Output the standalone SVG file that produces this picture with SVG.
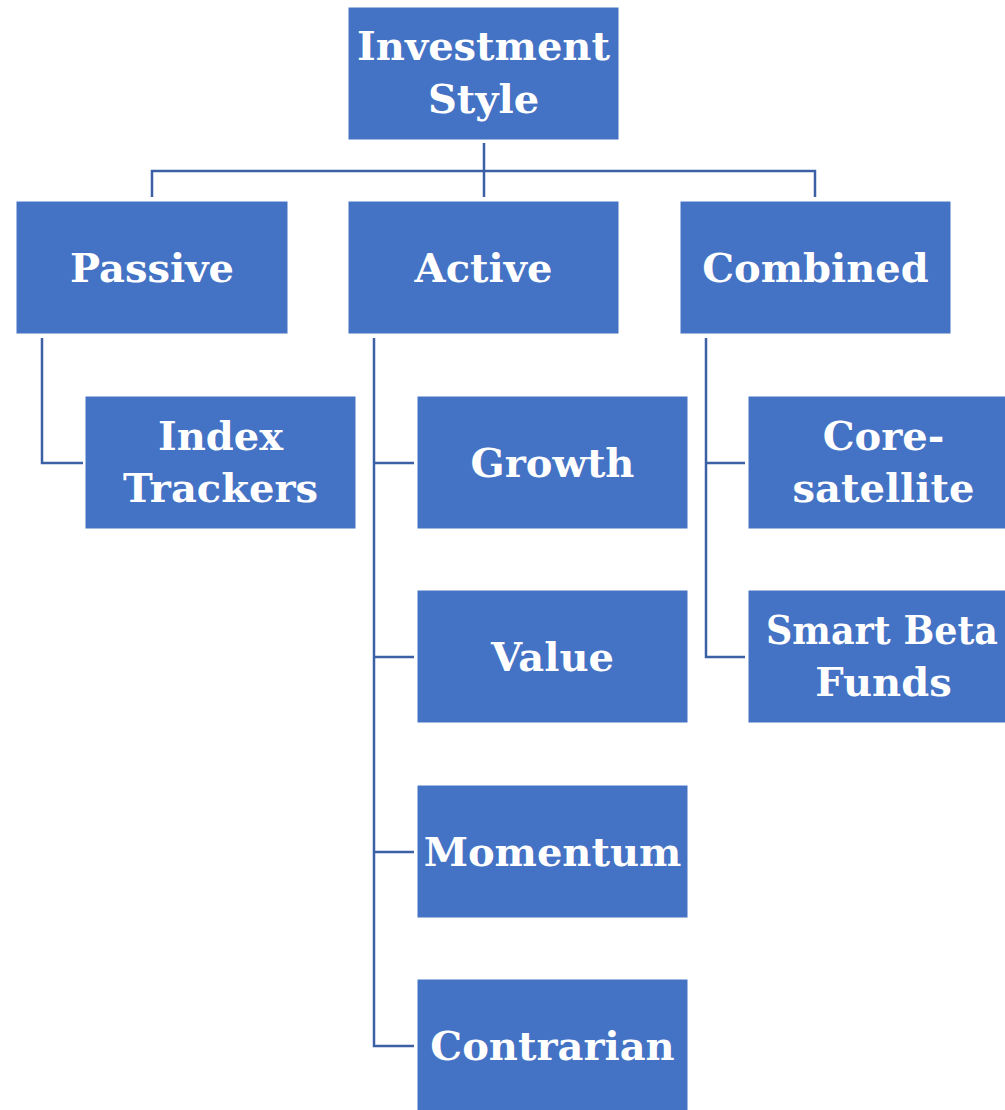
<svg xmlns="http://www.w3.org/2000/svg" width="1005" height="1110" viewBox="0 0 1005 1110">
<style>
.box{fill:#4472C4;stroke:#ffffff;stroke-width:1}
.lbl{font-family:"DejaVu Serif","Liberation Serif",serif;font-weight:bold;font-size:40px;fill:#ffffff;text-anchor:middle}
.con{fill:none;stroke:#3B60A6;stroke-width:2.5}
</style>
<rect width="1005" height="1110" fill="#ffffff"/>
<g id="connectors">
<path class="con" d="M484,143 V197 M152,197 V171 H815 V197"/>
<path class="con" d="M42,338 V463 H83"/>
<path class="con" d="M374,338 V1046 H414 M374,463 H414 M374,657 H414 M374,852 H414"/>
<path class="con" d="M706,338 V657 H745 M706,463 H745"/>
</g>
<g id="root"><rect class="box" x="348" y="7" width="271" height="133"/><text class="lbl" x="483.5" y="60">Investment</text><text class="lbl" x="483.5" y="113">Style</text></g>
<g id="passive"><rect class="box" x="16" y="201" width="272" height="133"/><text class="lbl" x="152" y="282">Passive</text></g>
<g id="active"><rect class="box" x="348" y="201" width="271" height="133"/><text class="lbl" x="483.5" y="282">Active</text></g>
<g id="combined"><rect class="box" x="680" y="201" width="271" height="133"/><text class="lbl" x="815.5" y="282">Combined</text></g>
<g id="index-trackers"><rect class="box" x="85" y="396" width="271" height="133"/><text class="lbl" x="220.5" y="450">Index</text><text class="lbl" x="220.5" y="502">Trackers</text></g>
<g id="growth"><rect class="box" x="417" y="396" width="271" height="133"/><text class="lbl" x="552.5" y="477">Growth</text></g>
<g id="value"><rect class="box" x="417" y="590" width="271" height="133"/><text class="lbl" x="552.5" y="671">Value</text></g>
<g id="momentum"><rect class="box" x="417" y="785" width="271" height="133"/><text class="lbl" x="552.5" y="866">Momentum</text></g>
<g id="contrarian"><rect class="box" x="417" y="979" width="271" height="133"/><text class="lbl" x="552.5" y="1060">Contrarian</text></g>
<g id="core-satellite"><rect class="box" x="748" y="396" width="271" height="133"/><text class="lbl" x="883.5" y="450">Core-</text><text class="lbl" x="883.5" y="502">satellite</text></g>
<g id="smart-beta"><rect class="box" x="748" y="590" width="271" height="133"/><text class="lbl" x="882" y="644" textLength="232" lengthAdjust="spacingAndGlyphs">Smart Beta</text><text class="lbl" x="883.5" y="696">Funds</text></g>
</svg>
